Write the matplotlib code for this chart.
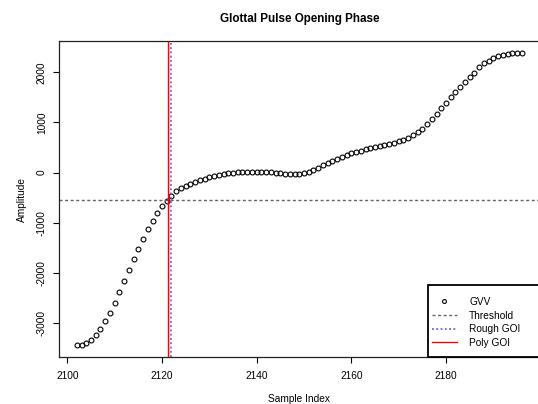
import matplotlib
matplotlib.use("Agg")
import matplotlib.pyplot as plt
import numpy as np
from matplotlib.patches import Rectangle

plt.rcParams['font.family'] = ['Liberation Sans', 'DejaVu Sans']

# glottal volume velocity samples, opening phase
sample_start = 2102
gvv = [-3444, -3444, -3404, -3337, -3245, -3112, -2966, -2793, -2600, -2388,
       -2169, -1950, -1731, -1518, -1325, -1133, -966, -815, -675, -562,
       -462, -369, -316, -263, -217, -183, -150, -124, -97, -77,
       -50, -30, -17, -4, 8, 16, 22, 22, 22, 16,
       16, 8, 0, -10, -20, -27, -31, -25, -11, 22,
       62, 102, 149, 189, 235, 275, 315, 355, 388, 414,
       441, 468, 488, 508, 528, 548, 568, 588, 621, 654,
       694, 747, 807, 880, 966, 1066, 1172, 1285, 1398, 1511,
       1617, 1717, 1810, 1903, 1989, 2100, 2177, 2236, 2280, 2319,
       2346, 2365, 2378, 2387, 2392]
sample_idx = np.arange(sample_start, sample_start + len(gvv))

threshold = -542
rough_goi = 2122
poly_goi = 2121.3

xticks = [2100, 2120, 2140, 2160, 2180]
yticks = [-3000, -2000, -1000, 0, 1000, 2000]

fig = plt.figure(figsize=(5.38, 4.04), dpi=100)
ax = fig.add_axes([59/538, 47/404, 480.5/538, 316/404])

ax.plot(sample_idx, gvv, linestyle='none', marker='o', markersize=3.5,
        markerfacecolor='none', markeredgecolor='black', markeredgewidth=0.8,
        label='GVV', clip_on=False)
ax.axhline(threshold, color='#666666', linestyle=(0, (2.2, 1.8)), linewidth=1.0,
           label='Threshold')
ax.axvline(rough_goi, color='#4d4dff', linestyle=(0, (1.2, 1.6)), linewidth=1.1,
           label='Rough GOI')
ax.axvline(poly_goi, color='red', linestyle='-', linewidth=1.0, label='Poly GOI')

# R-style 4% padding on both axes
xr = sample_idx[-1] - sample_idx[0]
ax.set_xlim(sample_idx[0] - 0.04*xr, sample_idx[-1] + 0.04*xr)
yr = max(gvv) - min(gvv)
ax.set_ylim(min(gvv) - 0.04*yr, max(gvv) + 0.04*yr)

ax.set_xticks(xticks)
ax.set_yticks(yticks)
ax.set_xticklabels([str(t) for t in xticks])
ax.set_yticklabels([str(t) for t in yticks], rotation=90, va='center')
ax.tick_params(direction='out', length=4.3, width=0.8, labelsize=7.3, pad=5.5,
               colors='black')
ax.tick_params(axis='y', pad=4.5)
for s in ax.spines.values():
    s.set_linewidth(0.9)
    s.set_color('#222222')

ax.set_title('Glottal Pulse Opening Phase', fontsize=8.4, fontweight='bold', pad=14)
ax.set_xlabel('Sample Index', fontsize=7.3)
ax.set_ylabel('Amplitude', fontsize=7.3)
ax.xaxis.set_label_coords(0.5, -0.117)
ax.yaxis.set_label_coords(-0.067, 0.5)

# legend box in the bottom right corner
ax.add_patch(Rectangle((0.7673, 0.0), 0.3, 0.228, transform=ax.transAxes,
                       facecolor='white', edgecolor='black', linewidth=1.3,
                       clip_on=False, zorder=5))
leg = ax.legend(loc='upper left', bbox_to_anchor=(0.7757, 0.19), frameon=False,
                fontsize=7.3, borderpad=0, borderaxespad=0, handlelength=2.5,
                handletextpad=1.2, labelspacing=0.36, markerscale=0.8)
leg.set_zorder(6)

fig.savefig('out.png', dpi=100)
